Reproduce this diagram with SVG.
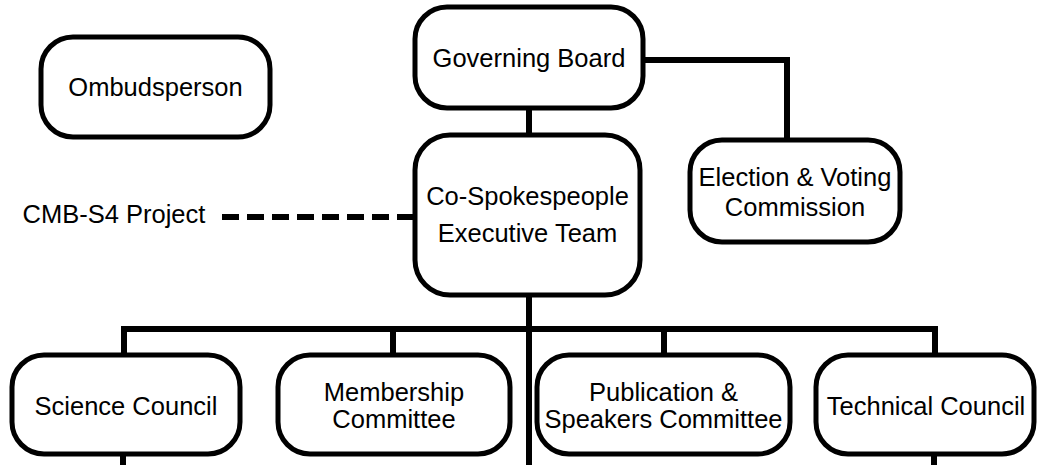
<svg xmlns="http://www.w3.org/2000/svg" width="1037" height="465" viewBox="0 0 1037 465">
<style>
.box{fill:#fff;stroke:#000;stroke-width:5}
.ln{fill:none;stroke:#000;stroke-width:6}
.dash{fill:none;stroke:#000;stroke-width:6;stroke-dasharray:17 8}
text{font-family:"Liberation Sans",Arial,sans-serif;font-size:25.5px;fill:#000;text-anchor:middle}
</style>
<rect width="1037" height="465" fill="#fff"/>
<g id="connectors">
<path class="ln" d="M643 60 H787 V140"/>
<path class="ln" d="M529 108 V135"/>
<path class="ln" d="M529 295 V465"/>
<path class="ln" d="M124 355 V329 H935 V355"/>
<path class="ln" d="M393 329 V355"/>
<path class="ln" d="M664 329 V355"/>
<path class="ln" d="M123 455 V465"/>
<path class="ln" d="M934 455 V465"/>
<path class="dash" d="M222 217 H415"/>
</g>
<g id="ombudsperson"><rect class="box" x="41" y="37" width="229" height="100" rx="32"/><text x="155.5" y="96">Ombudsperson</text></g>
<g id="governing-board"><rect class="box" x="415" y="7" width="228" height="101" rx="32"/><text x="529" y="67">Governing Board</text></g>
<g id="co-spokespeople"><rect class="box" x="415" y="135" width="225" height="160" rx="35"/><text x="527.5" y="205">Co-Spokespeople</text><text x="527.5" y="242">Executive Team</text></g>
<g id="election"><rect class="box" x="690" y="140" width="210" height="102" rx="32"/><text x="795" y="186">Election &amp; Voting</text><text x="795" y="216">Commission</text></g>
<g id="cmb-s4"><text x="114" y="223">CMB-S4 Project</text></g>
<g id="science-council"><rect class="box" x="12" y="355" width="228" height="99" rx="32"/><text x="126" y="415">Science Council</text></g>
<g id="membership"><rect class="box" x="278" y="355" width="232" height="99" rx="32"/><text x="394" y="401">Membership</text><text x="394" y="428">Committee</text></g>
<g id="publication"><rect class="box" x="537" y="355" width="253" height="99" rx="32"/><text x="663.5" y="401">Publication &amp;</text><text x="663.5" y="428">Speakers Committee</text></g>
<g id="technical-council"><rect class="box" x="816" y="355" width="218" height="99" rx="32"/><text x="926" y="415">Technical Council</text></g>
</svg>
